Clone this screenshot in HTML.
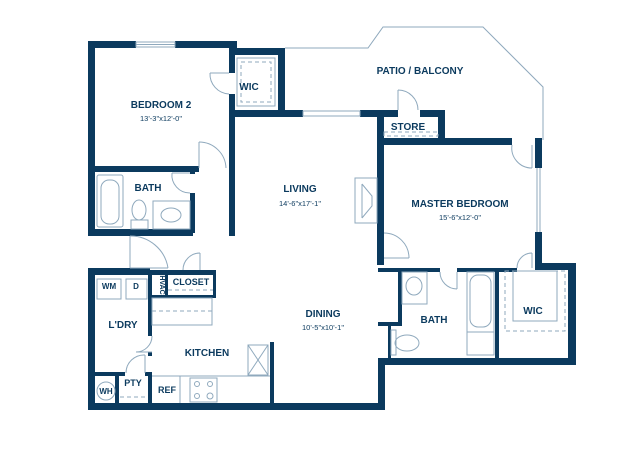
<!DOCTYPE html>
<html><head><meta charset="utf-8"><style>
html,body{margin:0;padding:0;background:#fff;}
svg{display:block;}
text{font-family:"Liberation Sans",sans-serif;fill:#0b3a5e;font-weight:bold;text-anchor:middle;}
.d{font-weight:normal;font-size:7.5px;}
.w{fill:#0b3a5e;}
.t{fill:none;stroke:#8fa9bd;stroke-width:1;}
.ds{fill:none;stroke:#8fa9bd;stroke-width:1;stroke-dasharray:4 3;}
</style></head><body>
<svg width="640" height="453" viewBox="0 0 640 453" xmlns="http://www.w3.org/2000/svg">
<rect width="640" height="453" fill="#fff"/>
<polyline class="t" points="285,48 368,48 383,27 483,27 543,87 543,140"/>
<g class="w">
<rect x="88" y="41" width="48" height="7"/><rect x="175" y="41" width="62" height="7"/>
<rect x="88" y="41" width="7" height="195"/>
<rect x="88" y="166" width="111" height="6"/>
<rect x="229" y="41" width="6" height="32"/><rect x="229" y="94" width="6" height="142"/>
<rect x="233" y="48" width="52" height="7"/>
<rect x="278" y="48" width="7" height="69"/>
<rect x="233" y="110" width="70" height="7"/><rect x="360" y="110" width="38" height="7"/><rect x="420" y="110" width="25" height="7"/>
<rect x="438" y="110" width="7" height="35"/>
<rect x="377" y="110" width="7" height="155"/>
<rect x="377" y="138" width="135" height="7"/>
<rect x="535" y="138" width="7" height="30"/><rect x="535" y="232" width="7" height="38"/>
<rect x="535" y="263" width="41" height="7"/>
<rect x="568" y="263" width="8" height="102"/>
<rect x="378" y="358" width="198" height="7"/>
<rect x="378" y="358" width="7" height="52"/>
<rect x="378" y="268" width="62" height="4"/><rect x="457" y="268" width="60" height="4"/>
<rect x="398" y="268" width="4" height="58"/>
<rect x="378" y="322" width="24" height="4"/>
<rect x="388" y="322" width="3" height="38"/>
<rect x="495" y="268" width="4" height="92"/>
<rect x="88" y="229" width="105" height="7"/>
<rect x="190" y="171" width="5" height="3"/><rect x="190" y="193" width="5" height="40"/>
<rect x="88" y="403" width="297" height="7"/>
<rect x="88" y="268" width="7" height="142"/>
<rect x="88" y="268" width="62" height="7"/>
<rect x="150" y="270" width="66" height="5"/>
<rect x="148" y="270" width="4" height="66"/><rect x="148" y="352" width="4" height="4"/><rect x="148" y="373" width="4" height="32"/>
<rect x="150" y="295" width="66" height="3"/>
<rect x="165" y="273" width="3" height="24"/>
<rect x="213" y="270" width="3" height="28"/>
<rect x="95" y="372" width="30" height="4"/><rect x="145" y="372" width="7" height="4"/>
<rect x="115" y="372" width="4" height="33"/>
<rect x="270" y="342" width="4" height="63"/>
</g>
<g class="t">
<rect x="136" y="42" width="39" height="5"/><line x1="136" y1="44.5" x2="175" y2="44.5"/>
<rect x="303" y="111" width="57" height="5"/>
<rect x="237" y="58" width="38" height="48"/><rect x="241" y="62" width="30" height="40" class="ds"/>
<line x1="199" y1="142" x2="199" y2="168"/><path d="M199,142 A27,27 0 0 1 226,168"/>
<path d="M210,73 A20,20 0 0 0 229,94"/><line x1="210" y1="73" x2="229" y2="73"/>
<rect x="97" y="175" width="26" height="52" rx="2"/><rect x="101" y="180" width="18" height="44" rx="8"/>
<ellipse cx="139" cy="210" rx="7" ry="10"/><rect x="131" y="220" width="17" height="9"/>
<rect x="153" y="201" width="37" height="28"/><ellipse cx="171" cy="215" rx="10" ry="7"/>
<path d="M172,173 A18,18 0 0 0 190,193"/><line x1="172" y1="173" x2="190" y2="173"/>
<line x1="130" y1="236" x2="130" y2="268"/><path d="M130,236 A38,38 0 0 1 168,268"/><line x1="130" y1="268" x2="168" y2="268"/>
<line x1="200" y1="253" x2="200" y2="270"/><path d="M200,253 A17,17 0 0 0 183,270"/>
<rect x="355" y="178" width="22" height="45"/><path d="M362,184 L372,196 L372,206 L362,218"/><line x1="362" y1="184" x2="362" y2="218"/>
<rect x="384" y="132" width="54" height="4" class="ds"/>
<line x1="398" y1="90" x2="398" y2="110"/><path d="M398,90 A20,20 0 0 1 418,110"/>
<line x1="537" y1="168" x2="537" y2="232"/><line x1="540" y1="168" x2="540" y2="232"/>
<path d="M512,145 A20,20 0 0 0 532,168"/><line x1="532" y1="145" x2="532" y2="168"/>
<path d="M384,233 A25,25 0 0 1 409,258"/><line x1="384" y1="258" x2="409" y2="258"/>
<path d="M440,272 A17,17 0 0 0 457,289"/><line x1="457" y1="272" x2="457" y2="289"/>
<path d="M517,268 A15,15 0 0 1 532,253"/><line x1="532" y1="253" x2="532" y2="268"/>
<rect x="402" y="272" width="25" height="32"/><ellipse cx="414" cy="286" rx="8" ry="9"/>
<ellipse cx="407" cy="343" rx="12" ry="8"/><rect x="391" y="330" width="5" height="25"/>
<rect x="467" y="272" width="27" height="83"/><rect x="470" y="275" width="21" height="52" rx="8"/><line x1="467" y1="332" x2="494" y2="332"/>
<rect x="505" y="271" width="60" height="60" class="ds"/><rect x="513" y="271" width="44" height="50"/>
<rect x="97" y="279" width="24" height="20"/><rect x="126" y="279" width="21" height="20"/>
<rect x="152" y="298" width="60" height="27"/><line x1="152" y1="311" x2="212" y2="311" class="ds"/>
<line x1="168" y1="290" x2="213" y2="290" class="ds"/>
<path d="M152,336 A16,16 0 0 1 136,352"/><line x1="136" y1="352" x2="152" y2="352"/>
<path d="M145,355 A18,18 0 0 0 126,373"/><line x1="145" y1="355" x2="145" y2="373"/>
<rect x="248" y="345" width="20" height="30"/><line x1="248" y1="345" x2="268" y2="375"/><line x1="268" y1="345" x2="248" y2="375"/>
<polyline points="152,376 180,376 180,403"/><polyline points="180,376 270,376"/>
<rect x="190" y="378" width="27" height="24"/>
<circle cx="197" cy="384" r="2.5"/><circle cx="210" cy="384" r="2.5"/><circle cx="197" cy="396" r="2.5"/><circle cx="210" cy="396" r="3"/>
<circle cx="106" cy="391" r="9"/>
<line x1="120" y1="397" x2="146" y2="397" class="ds"/>
</g>
<text x="161" y="108" font-size="10">BEDROOM 2</text><text class="d" x="161" y="121">13'-3"x12'-0"</text>
<text x="249" y="90" font-size="10">WIC</text>
<text x="420" y="74" font-size="10">PATIO / BALCONY</text>
<text x="408" y="130" font-size="10">STORE</text>
<text x="300" y="192" font-size="10">LIVING</text><text class="d" x="300" y="206">14'-6"x17'-1"</text>
<text x="460" y="207" font-size="10">MASTER BEDROOM</text><text class="d" x="460" y="220">15'-6"x12'-0"</text>
<text x="148" y="191" font-size="10">BATH</text>
<text x="323" y="317" font-size="10">DINING</text><text class="d" x="323" y="330">10'-5"x10'-1"</text>
<text x="207" y="356" font-size="10">KITCHEN</text>
<text x="123" y="328" font-size="10">L'DRY</text>
<text x="109" y="289" font-size="8">WM</text><text x="136" y="289" font-size="8">D</text>
<text x="160" y="285" font-size="7" transform="rotate(90 160 285)">HVAC</text>
<text x="191" y="285" font-size="9">CLOSET</text>
<text x="434" y="323" font-size="10">BATH</text>
<text x="533" y="314" font-size="10">WIC</text>
<text x="106" y="394" font-size="8">WH</text>
<text x="133" y="386" font-size="9">PTY</text>
<text x="167" y="393" font-size="9">REF</text>
</svg>
</body></html>
